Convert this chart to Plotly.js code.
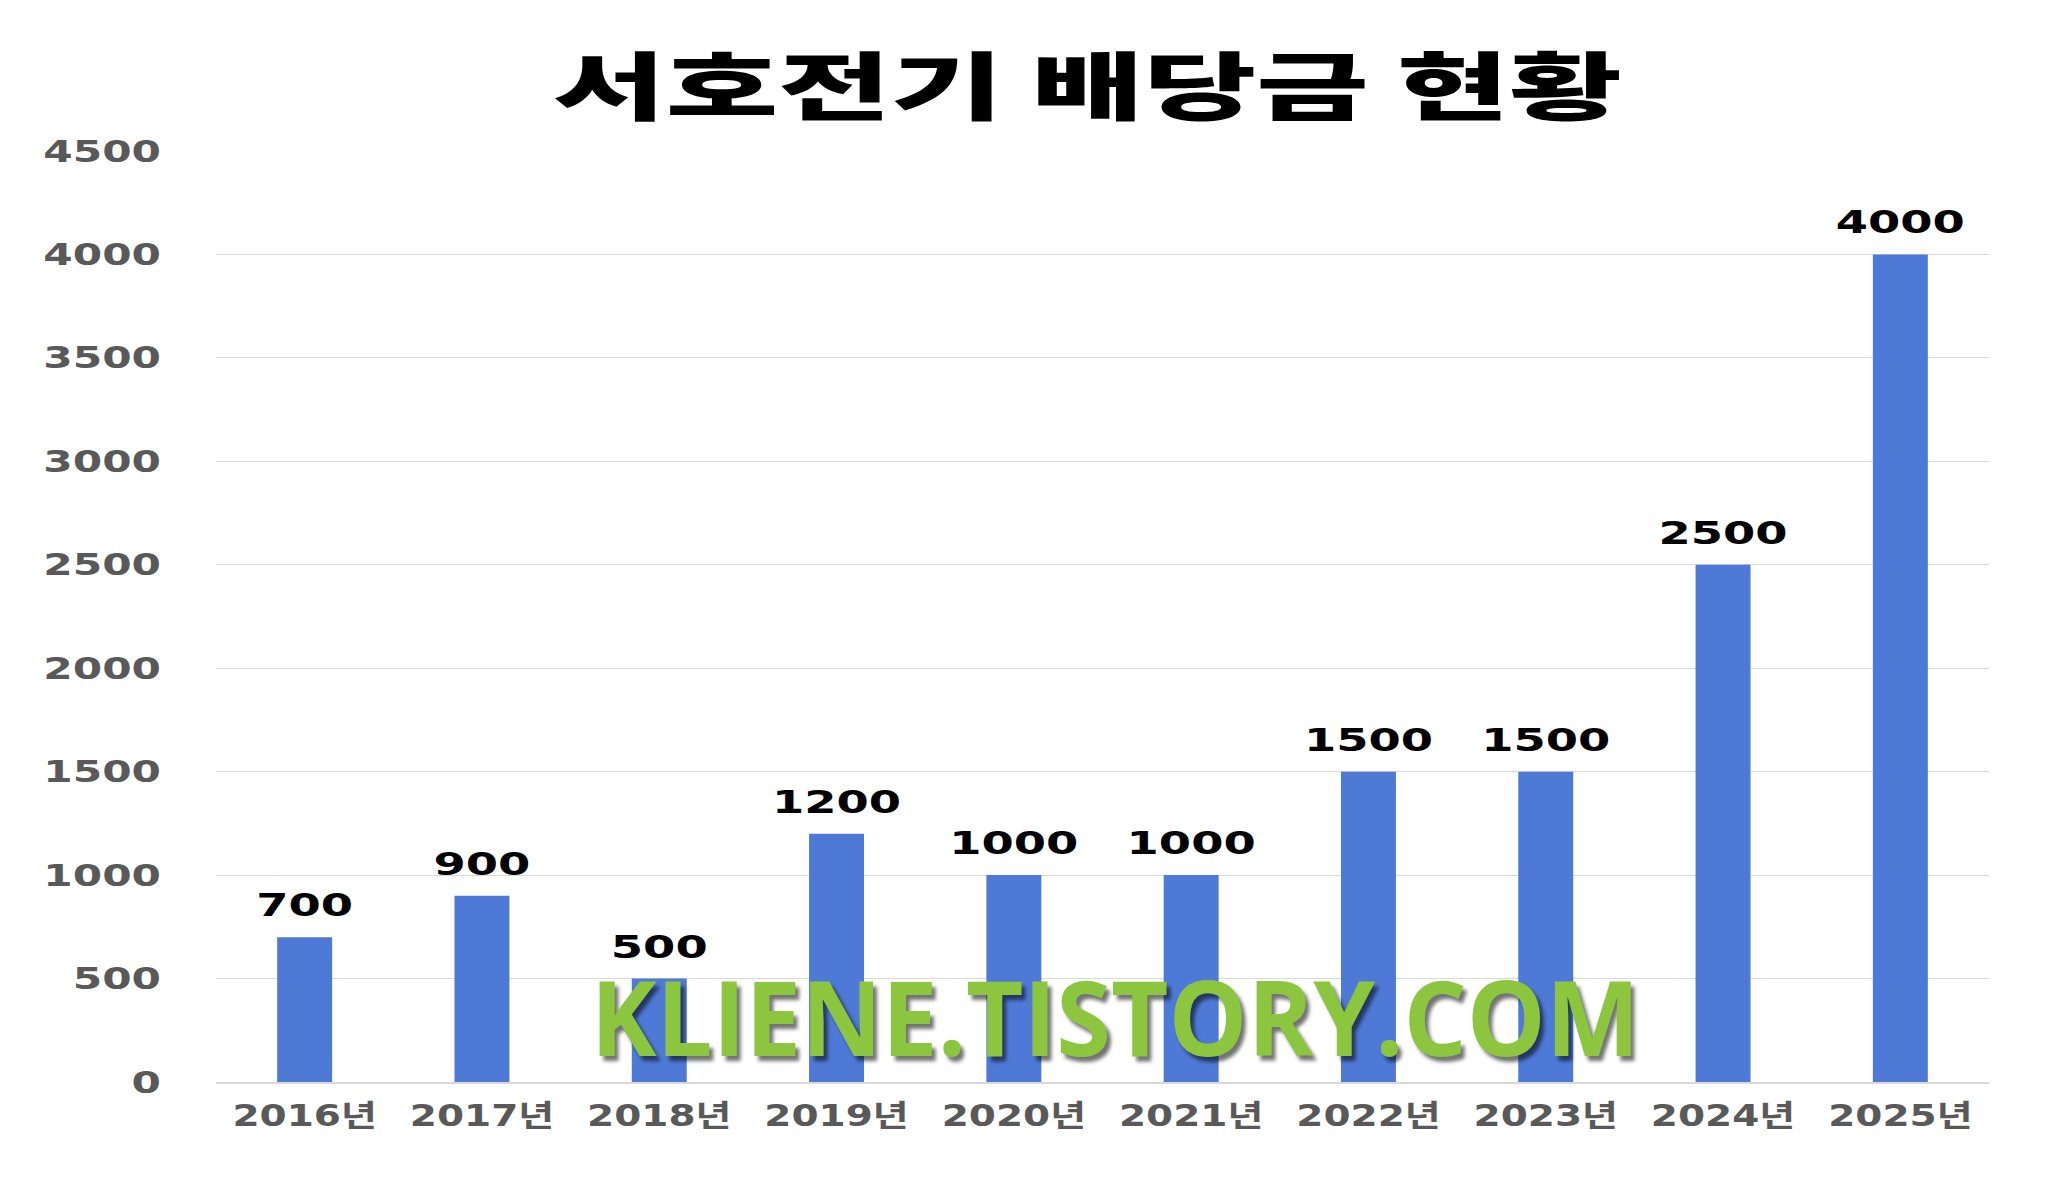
<!DOCTYPE html>
<html>
<head>
<meta charset="utf-8">
<script src="https://cdn.plot.ly/plotly-3.0.1.min.js"></script>
<style>
  html, body { margin: 0; padding: 0; background: #ffffff; }
  #chart { width: 2056px; height: 1188px; }
</style>
</head>
<body>
<div id="chart"></div>
<script>
// ---- data ----
const years = ['2016년', '2017년', '2018년', '2019년', '2020년', '2021년', '2022년', '2023년', '2024년', '2025년'];
const dividends = [700, 900, 500, 1200, 1000, 1000, 1500, 1500, 2500, 4000];
const dividendLabels = ['700', '900', '500', '1200', '1000', '1000', '1500', '1500', '2500', '4000'];
const yTickValues = [0, 500, 1000, 1500, 2000, 2500, 3000, 3500, 4000, 4500];
const chartTitle = '서호전기 배당금 현황';
const watermark = 'KLIENE.TISTORY.COM';

const NUMFONT = 'DejaVu Sans, "Noto Sans CJK KR", sans-serif';

const trace = {
  type: 'bar',
  x: years,
  y: dividends,
  text: dividendLabels,
  textposition: 'outside',
  constraintext: 'none',
  cliponaxis: false,
  textfont: { family: NUMFONT, size: 32, color: '#000000', weight: 700 },
  marker: { color: '#4e79d6' },
  hoverinfo: 'x+y'
};

const layout = {
  width: 2056,
  height: 1188,
  paper_bgcolor: '#ffffff',
  plot_bgcolor: '#ffffff',
  margin: { l: 216, r: 67, t: 151, b: 106 },
  bargap: 0.69,
  showlegend: false,
  title: {
    text: chartTitle,
    font: { family: '"Noto Sans CJK KR", sans-serif', size: 74, color: '#000000', weight: 900 },
    xref: 'container', yref: 'container',
    x: 1087.5 / 2056, xanchor: 'center',
    y: 1 - 88 / 1188, yanchor: 'middle'
  },
  xaxis: {
    type: 'category',
    showgrid: false,
    showline: true,
    linecolor: '#d9d9d9',
    linewidth: 1.5,
    ticks: '',
    ticklabelstandoff: 7,
    tickfont: { family: NUMFONT, size: 30, color: '#595959', weight: 700 }
  },
  yaxis: {
    range: [0, 4500],
    tickvals: yTickValues,
    ticktext: yTickValues.map(String),
    showgrid: true,
    gridcolor: '#d9d9d9',
    gridwidth: 1,
    zeroline: false,
    showline: false,
    ticks: '',
    ticklabelstandoff: 54,
    tickfont: { family: NUMFONT, size: 30, color: '#595959', weight: 700 }
  },
  annotations: [{
    text: watermark,
    xref: 'paper', yref: 'paper',
    x: (1114.5 - 216) / 1773, y: (1082 - 1015) / 931,
    xanchor: 'center', yanchor: 'middle',
    showarrow: false,
    font: { family: '"Open Sans", sans-serif', size: 104, color: '#8cc63f', weight: 700,
            shadow: '4px 5px 4px rgba(0,0,0,0.55)' }
  }]
};

function stretch(sel, sx, anchor, dy, targetWidth) {
  document.querySelectorAll(sel).forEach(el => {
    const b = el.getBBox();
    let s = sx;
    if (targetWidth && b.width > 0) s = targetWidth / b.width;
    const cx = anchor === 'end' ? b.x + b.width : (anchor === 'start' ? b.x : b.x + b.width / 2);
    const t = el.getAttribute('transform') || '';
    el.setAttribute('transform', t + ' translate(' + cx + ',' + (dy || 0) + ') scale(' + s + ',1) translate(' + (-cx) + ',0)');
  });
}

Plotly.newPlot('chart', [trace], layout, { displayModeBar: false, staticPlot: true }).then(() => {
  stretch('.ytick text', 1.41, 'end', 0);
  stretch('.xtick text', 1.3, 'middle', 0);
  stretch('text.bartext', 1.45, 'middle', -10);
  stretch('.gtitle', 1, 'middle', 0, 1069);
  stretch('.annotation-text', 1, 'middle', 0, 1049);
});
</script>
</body>
</html>
